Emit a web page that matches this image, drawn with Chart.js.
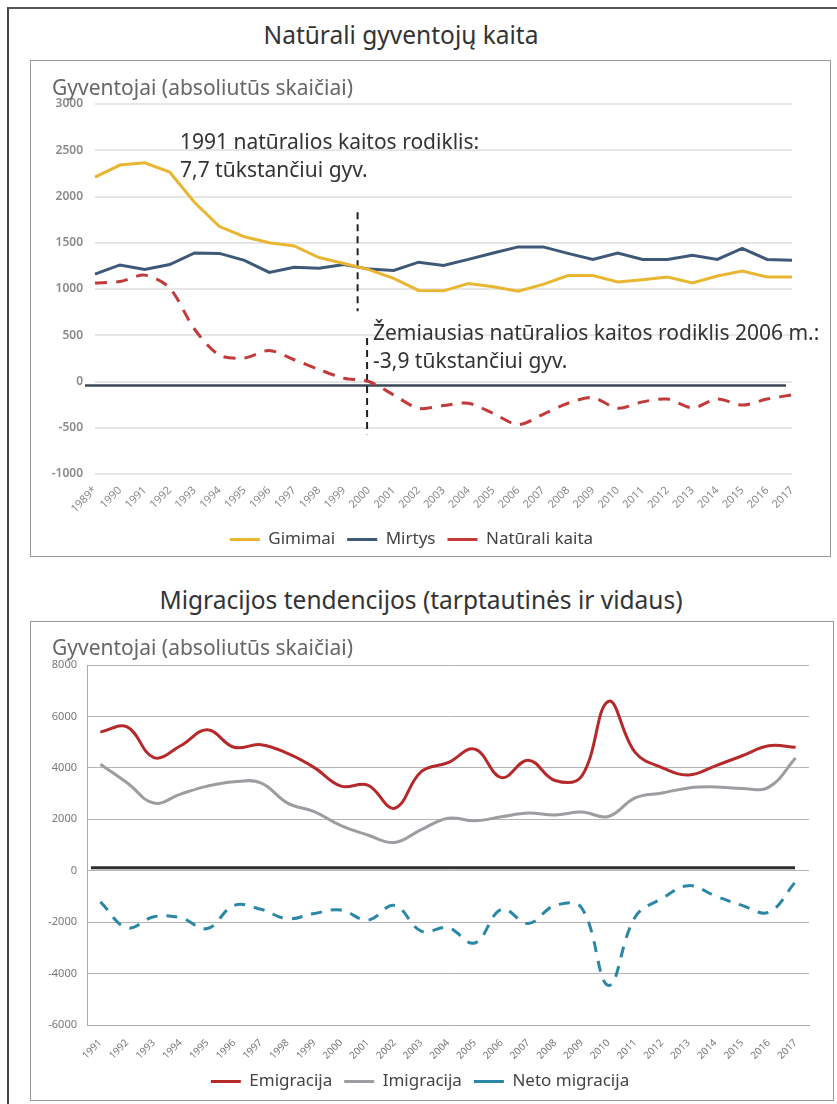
<!DOCTYPE html>
<html>
<head>
<meta charset="utf-8">
<script src="https://cdn.jsdelivr.net/npm/chart.js@4"></script>
<style>
  body { margin: 0; background: #fff; font-family: 'Noto Sans', sans-serif; }
  .page { position: relative; width: 837px; height: 1104px; overflow: hidden; }
  .frame { position: absolute; left: 7px; top: 7px; width: 840px; height: 1110px;
           border-left: 2px solid #444; border-top: 2px solid #555; }
  .panel { position: absolute; border: 1px solid #999; background: #fff; }
  .title { position: absolute; text-align: center; font-size: 24.5px; color: #333; line-height: 34px; }
  .ytitle { position: absolute; font-size: 21px; color: #666; line-height: 28px; }
  .note { position: absolute; font-size: 21px; color: #333; line-height: 28px; white-space: nowrap; }
  .box { position: absolute; }
</style>
</head>
<body>
<div class="page">
  <div class="frame"></div>

  <div class="title" style="left:0; top:18px; width:802px;">Natūrali gyventojų kaita</div>
  <div class="panel" style="left:30px; top:60px; width:799px; height:495px;"></div>
  <div class="box" style="left:31px; top:61px; width:798px; height:497px;"><canvas id="c1"></canvas></div>
  <div class="ytitle" style="left:52px; top:73px;">Gyventojai (absoliutūs skaičiai)</div>
  <div class="note" style="left:180px; top:127px;">1991 natūralios kaitos rodiklis:<br>7,7 tūkstančiui gyv.</div>
  <div class="note" style="left:373px; top:318px;">Žemiausias natūralios kaitos rodiklis 2006 m.:<br>-3,9 tūkstančiui gyv.</div>

  <div class="title" style="left:21px; top:583px; width:800px;">Migracijos tendencijos (tarptautinės ir vidaus)</div>
  <div class="panel" style="left:30px; top:621px; width:802px; height:478px;"></div>
  <div class="box" style="left:31px; top:622px; width:801px; height:478px;"><canvas id="c2"></canvas></div>
  <div class="ytitle" style="left:52px; top:633px;">Gyventojai (absoliutūs skaičiai)</div>
</div>

<script>
// natūrali kaita
const metai1 = ['1989*', '1990', '1991', '1992', '1993', '1994', '1995', '1996', '1997', '1998',
    '1999', '2000', '2001', '2002', '2003', '2004', '2005', '2006', '2007', '2008', '2009',
    '2010', '2011', '2012', '2013', '2014', '2015', '2016', '2017'];
const gimimai = [2210, 2340, 2365, 2265, 1935, 1675, 1565, 1500, 1465, 1340, 1275, 1210, 1115,
    985, 980, 1060, 1025, 975, 1050, 1145, 1145, 1075, 1100, 1130, 1065, 1140, 1195, 1130, 1130];
const mirtys = [1160, 1260, 1210, 1265, 1390, 1385, 1310, 1180, 1235, 1225, 1265, 1215, 1200,
    1290, 1255, 1320, 1390, 1455, 1455, 1385, 1320, 1390, 1320, 1320, 1365, 1320, 1440, 1320, 1310];
const naturaliKaita = [1065, 1080, 1150, 1010, 565, 285, 255, 335, 235, 130, 35, 0, -145,
    -290, -260, -235, -345, -465, -355, -235, -175, -290, -220, -190, -285, -190, -255, -190, -145];

// migracija
const metai2 = ['1991', '1992', '1993', '1994', '1995', '1996', '1997', '1998', '1999', '2000',
    '2001', '2002', '2003', '2004', '2005', '2006', '2007', '2008', '2009', '2010', '2011',
    '2012', '2013', '2014', '2015', '2016', '2017'];
const emigracija = [5390, 5590, 4400, 4860, 5480, 4800, 4900, 4560, 4010, 3290, 3330, 2430, 3850,
    4200, 4730, 3620, 4300, 3510, 3680, 6590, 4600, 4010, 3720, 4080, 4470, 4860, 4800];
const imigracija = [4140, 3420, 2630, 2980, 3290, 3460, 3420, 2630, 2300, 1750, 1390, 1100, 1600,
    2040, 1940, 2100, 2240, 2170, 2280, 2110, 2830, 3020, 3220, 3260, 3200, 3250, 4380];
const netoMigracija = [-1210, -2220, -1790, -1830, -2250, -1350, -1500, -1870, -1660, -1530, -1920,
    -1350, -2350, -2220, -2810, -1500, -2050, -1350, -1450, -4460, -1800, -1080, -580, -980,
    -1350, -1610, -420];

Chart.defaults.font.family = "'Noto Sans', sans-serif";
Chart.defaults.animation = false;

// nulinė linija ir punktyrinės žymos
const linijos = {
    id: 'linijos',
    beforeDatasetsDraw(chart, args, opts) {
        const ctx = chart.ctx;
        const area = chart.chartArea;
        const x = chart.scales.x, y = chart.scales.y;
        ctx.save();
        if (opts.nulis) {
            const z = y.getPixelForValue(0) + opts.nulis.dy;
            ctx.strokeStyle = opts.nulis.color;
            ctx.lineWidth = opts.nulis.width;
            ctx.beginPath();
            ctx.moveTo(area.left + opts.nulis.nuo, z);
            ctx.lineTo(area.right - opts.nulis.iki, z);
            ctx.stroke();
        }
        (opts.zymos || []).forEach(function (m) {
            const px = x.getPixelForValue(m.x);
            ctx.strokeStyle = '#222';
            ctx.lineWidth = 2;
            ctx.setLineDash([7, 5]);
            ctx.beginPath();
            ctx.moveTo(px, y.getPixelForValue(m.nuo));
            ctx.lineTo(px, y.getPixelForValue(m.iki));
            ctx.stroke();
        });
        ctx.restore();
    }
};

const legenda = {
    position: 'bottom',
    labels: {
        usePointStyle: true,
        pointStyle: 'line',
        pointStyleWidth: 30,
        boxHeight: 16,
        padding: 12,
        color: '#444',
        font: { size: 17 }
    }
};

const beKableliu = function (v) { return String(v); };

new Chart(document.getElementById('c1'), {
    type: 'line',
    data: {
        labels: metai1,
        datasets: [
            { label: 'Gimimai', data: gimimai, borderColor: '#E8B631', backgroundColor: '#E8B631',
              borderWidth: 3, pointRadius: 0, tension: 0 },
            { label: 'Mirtys', data: mirtys, borderColor: '#3E5878', backgroundColor: '#3E5878',
              borderWidth: 3, pointRadius: 0, tension: 0 },
            { label: 'Natūrali kaita', data: naturaliKaita, borderColor: '#C23A3A', backgroundColor: '#C23A3A',
              borderWidth: 3, borderDash: [12, 9], pointRadius: 0, tension: 0.3 }
        ]
    },
    options: {
        responsive: true,
        maintainAspectRatio: false,
        layout: { padding: { top: 43, right: 37, left: 0, bottom: 0 } },
        plugins: {
            legend: legenda,
            tooltip: { enabled: false },
            linijos: {
                nulis: { color: '#3B4756', width: 2.5, dy: 4, nuo: -10, iki: 6 },
                zymos: [ { x: 10.55, nuo: 1830, iki: 760 }, { x: 10.93, nuo: 470, iki: -570 } ]
            }
        },
        scales: {
            x: {
                offset: false,
                grid: { display: false },
                border: { display: false },
                ticks: { minRotation: 45, maxRotation: 45, autoSkip: false, color: '#888', padding: 2,
                         font: { size: 11 } },
                afterFit(s) { s.height = 45; }
            },
            y: {
                min: -1000, max: 3000,
                grid: { color: '#E6E6E6', lineWidth: 2, drawTicks: false },
                border: { display: false },
                ticks: { stepSize: 500, color: '#8A8A8A', padding: 12, font: { size: 12, weight: '600' },
                         callback: beKableliu },
                afterFit(s) { s.width = 64; }
            }
        }
    },
    plugins: [linijos]
});

new Chart(document.getElementById('c2'), {
    type: 'line',
    data: {
        labels: metai2,
        datasets: [
            { label: 'Emigracija', data: emigracija, borderColor: '#B5292B', backgroundColor: '#B5292B',
              borderWidth: 3, pointRadius: 0, tension: 0.4 },
            { label: 'Imigracija', data: imigracija, borderColor: '#9C9DA1', backgroundColor: '#9C9DA1',
              borderWidth: 3, pointRadius: 0, tension: 0.4 },
            { label: 'Neto migracija', data: netoMigracija, borderColor: '#2A88A6', backgroundColor: '#2A88A6',
              borderWidth: 3, borderDash: [11, 9], pointRadius: 0, tension: 0.4 }
        ]
    },
    options: {
        responsive: true,
        maintainAspectRatio: false,
        layout: { padding: { top: 43, right: 23, left: 0, bottom: 0 } },
        plugins: {
            legend: legenda,
            tooltip: { enabled: false },
            linijos: { nulis: { color: '#2F2F2F', width: 3, dy: -3, nuo: 4, iki: 14 } }
        },
        scales: {
            x: {
                offset: true,
                grid: { display: false },
                border: { display: true, color: '#AAA' },
                ticks: { minRotation: 45, maxRotation: 45, autoSkip: false, color: '#777', padding: 4,
                         font: { size: 10 } },
                afterFit(s) { s.height = 36; }
            },
            y: {
                min: -6000, max: 8000,
                grid: { color: '#B4B4B4', lineWidth: 1, drawTicks: false },
                border: { display: true, color: '#AAA' },
                ticks: { stepSize: 2000, color: '#777', padding: 10, font: { size: 11 },
                         callback: beKableliu },
                afterFit(s) { s.width = 56; }
            }
        }
    },
    plugins: [linijos]
});
</script>
</body>
</html>
